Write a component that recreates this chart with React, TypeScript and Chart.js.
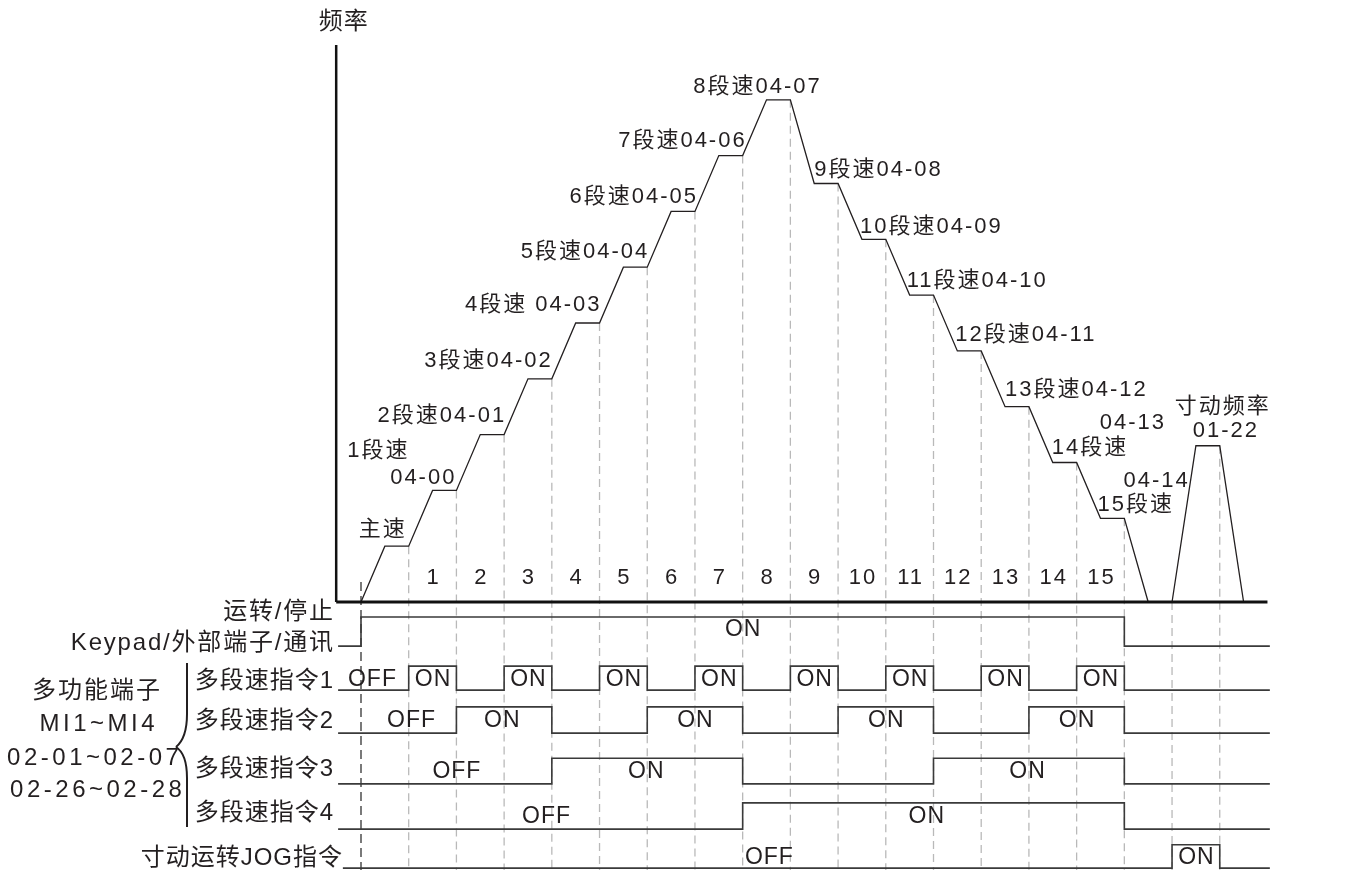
import React, { useEffect, useRef } from "react";
import { Chart, registerables } from "chart.js";

Chart.register(...registerables);

// ---------------- data ----------------
const yTitle = "频率";
const stepNumbers = ["1", "2", "3", "4", "5", "6", "7", "8", "9", "10", "11", "12", "13", "14", "15"];
const stepStarts = [1, 2, 3, 4, 5, 6, 7, 8, 9, 10, 11, 12, 13, 14, 15];

// frequency profile (time in step units, frequency in level units)
const profileTimes = [0, 0.5, 1, 1.5, 2, 2.5, 3, 3.5, 4, 4.5, 5, 5.5, 6, 6.5, 7, 7.5, 8, 8.5, 9,
  9.5, 10, 10.5, 11, 11.5, 12, 12.5, 13, 13.5, 14, 14.5, 15, 15.5, 16, 16.5];
const profileFreq = [0, 1, 1, 2, 2, 3, 3, 4, 4, 5, 5, 6, 6, 7, 7, 8, 8, 9, 9,
  7.5, 7.5, 6.5, 6.5, 5.5, 5.5, 4.5, 4.5, 3.5, 3.5, 2.5, 2.5, 1.5, 1.5, 0];
const jogTimes = [17, 17.5, 18, 18.5];
const jogFreq = [0, 2.8, 2.8, 0];

const gridTimes = [1, 2, 3, 4, 5, 6, 7, 8, 9, 10, 11, 12, 13, 14, 15, 16, 17, 18];

const speedLabels = ["主速", "1段速", "04-00", "2段速04-01", "3段速04-02", "4段速 04-03", "5段速04-04",
  "6段速04-05", "7段速04-06", "8段速04-07", "9段速04-08", "10段速04-09", "11段速04-10",
  "12段速04-11", "13段速04-12", "04-13", "14段速", "04-14", "15段速", "寸动频率", "01-22"];

// signal states per step interval [k, k+1], k = 0..18
const runStates = [1, 1, 1, 1, 1, 1, 1, 1, 1, 1, 1, 1, 1, 1, 1, 1, 0, 0, 0];
const ms1States = [0, 1, 0, 1, 0, 1, 0, 1, 0, 1, 0, 1, 0, 1, 0, 1, 0, 0, 0];
const ms2States = [0, 0, 1, 1, 0, 0, 1, 1, 0, 0, 1, 1, 0, 0, 1, 1, 0, 0, 0];
const ms3States = [0, 0, 0, 0, 1, 1, 1, 1, 0, 0, 0, 0, 1, 1, 1, 1, 0, 0, 0];
const ms4States = [0, 0, 0, 0, 0, 0, 0, 0, 1, 1, 1, 1, 1, 1, 1, 1, 0, 0, 0];
const jogStates = [0, 0, 0, 0, 0, 0, 0, 0, 0, 0, 0, 0, 0, 0, 0, 0, 0, 1, 0];

const runNames = ["运转/停止", "Keypad/外部端子/通讯"];
const ms1Names = ["多段速指令1"];
const ms2Names = ["多段速指令2"];
const ms3Names = ["多段速指令3"];
const ms4Names = ["多段速指令4"];
const jogNames = ["寸动运转JOG指令"];
const groupNames = ["多功能端子", "MI1~MI4", "02-01~02-07", "02-26~02-28"];

const runLabelText = ["ON"];
const runLabelAt = [8];
const ms1LabelText = ["OFF", "ON", "ON", "ON", "ON", "ON", "ON", "ON", "ON"];
const ms1LabelAt = [0.23, 1.5, 3.5, 5.5, 7.5, 9.5, 11.5, 13.5, 15.5];
const ms2LabelText = ["OFF", "ON", "ON", "ON", "ON"];
const ms2LabelAt = [1.05, 2.95, 7.0, 11.0, 15.0];
const ms3LabelText = ["OFF", "ON", "ON"];
const ms3LabelAt = [2.0, 5.97, 13.96];
const ms4LabelText = ["OFF", "ON"];
const ms4LabelAt = [3.88, 11.85];
const jogLabelText = ["OFF", "ON"];
const jogLabelAt = [8.55, 17.5];

// ---------------- layout / style ----------------
const FONT = '"Liberation Sans", "Noto Sans CJK SC", sans-serif';
const TEXT = "#231f20";
const X_MIN = -0.524;
const X_MAX = 19.2;
const Y_MIN = -4.803;
const Y_MAX = 10;
const AXIS_X = -0.52;
const AXIS_TOP = 9.98;
const LINE_START = -0.48;
const LINE_END = 19.05;

// [plateau index, anchor, dx, dy] for each speed label
const speedLayout: [number, string, number, number][] = [
  [0, "end", -4, -16], [1, "end", -49, -39], [1, "end", -2, -12], [2, "end", 0, -19],
  [3, "end", -1, -18], [4, "end", 0, -18], [5, "end", 0, -15], [6, "end", 1, -14],
  [7, "end", 2, -15], [8, "mid", -22, -13], [9, "start", 0, -14], [10, "start", -2, -12],
  [11, "start", -3, -14], [12, "start", -2, -16], [13, "start", 0, -17], [14, "start", 47, -40],
  [14, "start", -1, -15], [15, "start", 23, -37], [15, "start", -3, -13], [16, "mid", 14, -39],
  [16, "mid", 17, -15],
];

type Row = {
  states: number[]; hi: number; lo: number; start: number;
  names: string[]; nameDy: number[]; nameRight: number; nameSpacing: number;
  labelText: string[]; labelAt: number[]; labelDy: number;
};

const rows: Row[] = [
  { states: runStates, hi: -0.27, lo: -0.79, start: LINE_START, names: runNames, nameDy: [-19, 12], nameRight: 333, nameSpacing: 1.8, labelText: runLabelText, labelAt: runLabelAt, labelDy: -2 },
  { states: ms1States, hi: -1.15, lo: -1.58, start: LINE_START, names: ms1Names, nameDy: [3], nameRight: 333, nameSpacing: 1, labelText: ms1LabelText, labelAt: ms1LabelAt, labelDy: 1 },
  { states: ms2States, hi: -1.88, lo: -2.35, start: LINE_START, names: ms2Names, nameDy: [1], nameRight: 333, nameSpacing: 1, labelText: ms2LabelText, labelAt: ms2LabelAt, labelDy: 1 },
  { states: ms3States, hi: -2.80, lo: -3.26, start: LINE_START, names: ms3Names, nameDy: [-2], nameRight: 333, nameSpacing: 1, labelText: ms3LabelText, labelAt: ms3LabelAt, labelDy: 1 },
  { states: ms4States, hi: -3.60, lo: -4.07, start: LINE_START, names: ms4Names, nameDy: [-3], nameRight: 333, nameSpacing: 1, labelText: ms4LabelText, labelAt: ms4LabelAt, labelDy: 1 },
  { states: jogStates, hi: -4.35, lo: -4.77, start: -0.38, names: jogNames, nameDy: [2], nameRight: 342, nameSpacing: 1, labelText: jogLabelText, labelAt: jogLabelAt, labelDy: 1 },
];

// ---------------- helpers ----------------
const allT = [...profileTimes, ...jogTimes];
const allF = [...profileFreq, ...jogFreq];
function freqAt(t: number): number {
  for (let i = 0; i < allT.length - 1; i++) {
    if (t >= allT[i] && t <= allT[i + 1]) {
      if (allT[i + 1] === allT[i]) return allF[i];
      return allF[i] + ((allF[i + 1] - allF[i]) * (t - allT[i])) / (allT[i + 1] - allT[i]);
    }
  }
  return 0;
}

const plateaus: { t0: number; t1: number; f: number }[] = [];
for (let i = 1; i + 1 < profileTimes.length; i += 2) {
  plateaus.push({ t0: profileTimes[i], t1: profileTimes[i + 1], f: profileFreq[i] });
}
plateaus.push({ t0: jogTimes[1], t1: jogTimes[2], f: jogFreq[1] });

function signalPoints(r: Row) {
  const pts: { x: number; y: number }[] = [{ x: r.start, y: r.lo }];
  r.states.forEach((s, k) => pts.push({ x: k, y: s ? r.hi : r.lo }));
  pts.push({ x: LINE_END, y: r.states[r.states.length - 1] ? r.hi : r.lo });
  return pts;
}

function gridPoints() {
  const pts: { x: number; y: number | null }[] = [];
  gridTimes.forEach((t) => {
    pts.push({ x: t, y: freqAt(t) });
    pts.push({ x: t, y: Y_MIN });
    pts.push({ x: t, y: null });
  });
  return pts;
}

function drawText(ctx: CanvasRenderingContext2D, text: string, x: number, y: number, size: number, align: CanvasTextAlign, spacing: number) {
  ctx.font = `${size}px ${FONT}`;
  (ctx as any).letterSpacing = `${spacing}px`;
  ctx.textAlign = align;
  ctx.textBaseline = "middle";
  let xx = x;
  if (align === "right") xx = x + spacing;
  if (align === "center") xx = x + spacing / 2;
  ctx.fillText(text, xx, y);
}

const textPlugin = {
  id: "diagramText",
  afterDatasetsDraw(chart: any) {
    const ctx: CanvasRenderingContext2D = chart.ctx;
    const xs = chart.scales.x;
    const ys = chart.scales.y;
    ctx.save();
    ctx.fillStyle = TEXT;

    // y title
    drawText(ctx, yTitle, xs.getPixelForValue(AXIS_X) + 7, ys.getPixelForValue(AXIS_TOP) - 23, 24, "center", 1);

    // step numbers
    stepNumbers.forEach((s, i) => {
      drawText(ctx, s, xs.getPixelForValue(stepStarts[i] + 0.5), ys.getPixelForValue(0) - 24, 22, "center", 2);
    });

    // speed labels
    speedLabels.forEach((s, i) => {
      const [pi, anchor, dx, dy] = speedLayout[i];
      const p = plateaus[pi];
      const py = ys.getPixelForValue(p.f) + dy;
      if (anchor === "end") drawText(ctx, s, xs.getPixelForValue(p.t1) + dx, py, 22, "right", 2);
      else if (anchor === "start") drawText(ctx, s, xs.getPixelForValue(p.t0) + dx, py, 22, "left", 2);
      else drawText(ctx, s, xs.getPixelForValue((p.t0 + p.t1) / 2) + dx, py, 22, "center", 2);
    });

    // rows
    rows.forEach((r) => {
      const mid = (ys.getPixelForValue(r.hi) + ys.getPixelForValue(r.lo)) / 2;
      r.labelText.forEach((t, i) => {
        drawText(ctx, t, xs.getPixelForValue(r.labelAt[i]), mid + r.labelDy, 23, "center", 1);
      });
      r.names.forEach((n, i) => {
        drawText(ctx, n, r.nameRight, mid + r.nameDy[i], 24, "right", r.nameSpacing);
      });
    });

    // group labels
    const gx = [96, 97, 93, 96];
    const gy = [691, 724, 758, 790];
    groupNames.forEach((g, i) => {
      drawText(ctx, g, gx[i], gy[i], 24, "center", i === 0 ? 2 : 3.5);
    });

    // brace
    ctx.strokeStyle = TEXT;
    ctx.lineWidth = 2;
    ctx.beginPath();
    ctx.moveTo(187, 663);
    ctx.lineTo(187, 714);
    ctx.quadraticCurveTo(187, 738, 176, 747);
    ctx.stroke();
    ctx.beginPath();
    ctx.moveTo(176, 747);
    ctx.quadraticCurveTo(187, 754, 187, 778);
    ctx.lineTo(187, 827);
    ctx.stroke();

    ctx.restore();
  },
};

const lineBase = { pointRadius: 0, fill: false, clip: false as any, tension: 0, spanGaps: false };

export default function App() {
  const ref = useRef<HTMLCanvasElement>(null);
  useEffect(() => {
    if (!ref.current) return;
    const datasets: any[] = [
      { ...lineBase, label: "grid", data: gridPoints(), borderColor: "#b9b9b9", borderWidth: 1.3, borderDash: [8, 5], order: 10 },
      { ...lineBase, label: "start", data: [{ x: 0, y: 0.36 }, { x: 0, y: Y_MIN }], borderColor: "#333", borderWidth: 1.3, borderDash: [9, 5], order: 9 },
      { ...lineBase, label: "axisY", data: [{ x: AXIS_X, y: 0 }, { x: AXIS_X, y: AXIS_TOP }], borderColor: "#111", borderWidth: 2.5, order: 1 },
      { ...lineBase, label: "axisX", data: [{ x: AXIS_X, y: 0 }, { x: 19, y: 0 }], borderColor: "#111", borderWidth: 3, order: 1 },
      { ...lineBase, label: "profile", data: profileTimes.map((t, i) => ({ x: t, y: profileFreq[i] })), borderColor: TEXT, borderWidth: 1.3, order: 2 },
      { ...lineBase, label: "jog", data: jogTimes.map((t, i) => ({ x: t, y: jogFreq[i] })), borderColor: TEXT, borderWidth: 1.3, order: 2 },
      ...rows.map((r, i) => ({ ...lineBase, label: "row" + i, data: signalPoints(r), stepped: "before", borderColor: "#3a3a3a", borderWidth: 1.6, order: 3 })),
    ];
    const chart = new Chart(ref.current, {
      type: "line",
      data: { datasets },
      options: {
        responsive: false,
        animation: false,
        devicePixelRatio: 1,
        layout: { padding: { left: 336, right: 88, top: 44, bottom: 0 } },
        plugins: { legend: { display: false }, tooltip: { enabled: false } },
        scales: {
          x: { type: "linear", min: X_MIN, max: X_MAX, display: false },
          y: { type: "linear", min: Y_MIN, max: Y_MAX, display: false },
        },
      },
      plugins: [textPlugin],
    } as any);
    return () => chart.destroy();
  }, []);
  return (
    <div style={{ position: "fixed", left: 0, top: 0, width: 1365, height: 870, background: "#fff" }}>
      <canvas ref={ref} width={1365} height={870} style={{ display: "block", width: 1365, height: 870 }} />
    </div>
  );
}
